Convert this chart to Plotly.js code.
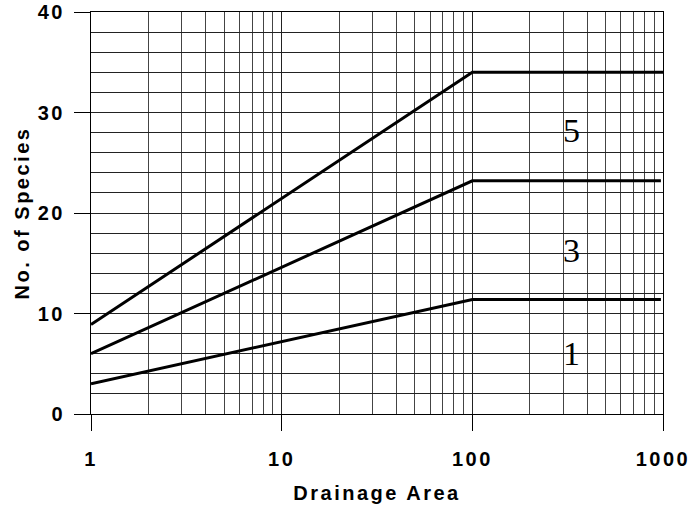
<!DOCTYPE html>
<html>
<head>
<meta charset="utf-8">
<script src="https://cdn.plot.ly/plotly-3.0.1.min.js"></script>
<style>
html,body{margin:0;padding:0;background:#fff;}
.xtick text, .ytick text, text.xtitle, text.ytitle { letter-spacing: 2.5px; }
</style>
</head>
<body>
<div id="chart" style="width:691px;height:514px;"></div>
<script>
// Drainage area (x) and number of species (y) for each curve
const area5 = [1, 100, 1000];
const species5 = [8.9, 34, 34];
const area3 = [1, 100, 975];
const species3 = [6, 23.2, 23.2];
const area1 = [1, 100, 975];
const species1 = [3, 11.4, 11.4];

const curveLabels = ['5', '3', '1'];
const labelX = [330, 330, 330];
const labelY = [28.2, 16.3, 6.0];

const xTickVals = [1, 10, 100, 1000];
const xTickText = ['1', '10', '100', '1000'];
const yTickVals = [0, 10, 20, 30, 40];

const lineStyle = {color: '#000', width: 3};
const traces = [
  {x: area5, y: species5, mode: 'lines', line: lineStyle, hoverinfo: 'skip'},
  {x: area3, y: species3, mode: 'lines', line: lineStyle, hoverinfo: 'skip'},
  {x: area1, y: species1, mode: 'lines', line: lineStyle, hoverinfo: 'skip'}
];

const sansBold = {family: 'Liberation Sans, Arial, sans-serif', size: 20, color: '#000', weight: 'bold'};

const layout = {
  width: 691, height: 514,
  margin: {l: 91, r: 28, t: 12, b: 100},
  paper_bgcolor: '#fff', plot_bgcolor: '#fff',
  showlegend: false,
  xaxis: {
    type: 'log', range: [0, 3],
    tickvals: xTickVals, ticktext: xTickText,
    ticks: 'outside', ticklen: 16, tickcolor: '#000', tickwidth: 1,
    tickfont: sansBold, ticklabelstandoff: 11,
    showgrid: true, gridcolor: '#222', gridwidth: 1,
    minor: {dtick: 'D1', showgrid: true, gridcolor: '#444', gridwidth: 1, ticks: ''},
    showline: true, mirror: true, linecolor: '#000', linewidth: 1,
    zeroline: false,
    title: {text: 'Drainage Area', font: sansBold, standoff: 16}
  },
  yaxis: {
    range: [0, 40],
    tickvals: yTickVals,
    ticks: 'outside', ticklen: 16, tickcolor: '#000', tickwidth: 1,
    tickfont: sansBold, ticklabelstandoff: 5,
    showgrid: true, gridcolor: '#222', gridwidth: 1,
    minor: {dtick: 2, showgrid: true, gridcolor: '#222', gridwidth: 1, ticks: ''},
    showline: true, mirror: true, linecolor: '#000', linewidth: 1,
    zeroline: false,
    title: {text: 'No. of Species', font: sansBold, standoff: 2}
  },
  annotations: curveLabels.map((t, i) => ({
    x: Math.log10(labelX[i]), y: labelY[i], xref: 'x', yref: 'y',
    text: t, showarrow: false,
    font: {family: 'Liberation Serif, Times New Roman, serif', size: 34, color: '#000'}
  }))
};

Plotly.newPlot('chart', traces, layout, {staticPlot: true, displayModeBar: false});
</script>
</body>
</html>
